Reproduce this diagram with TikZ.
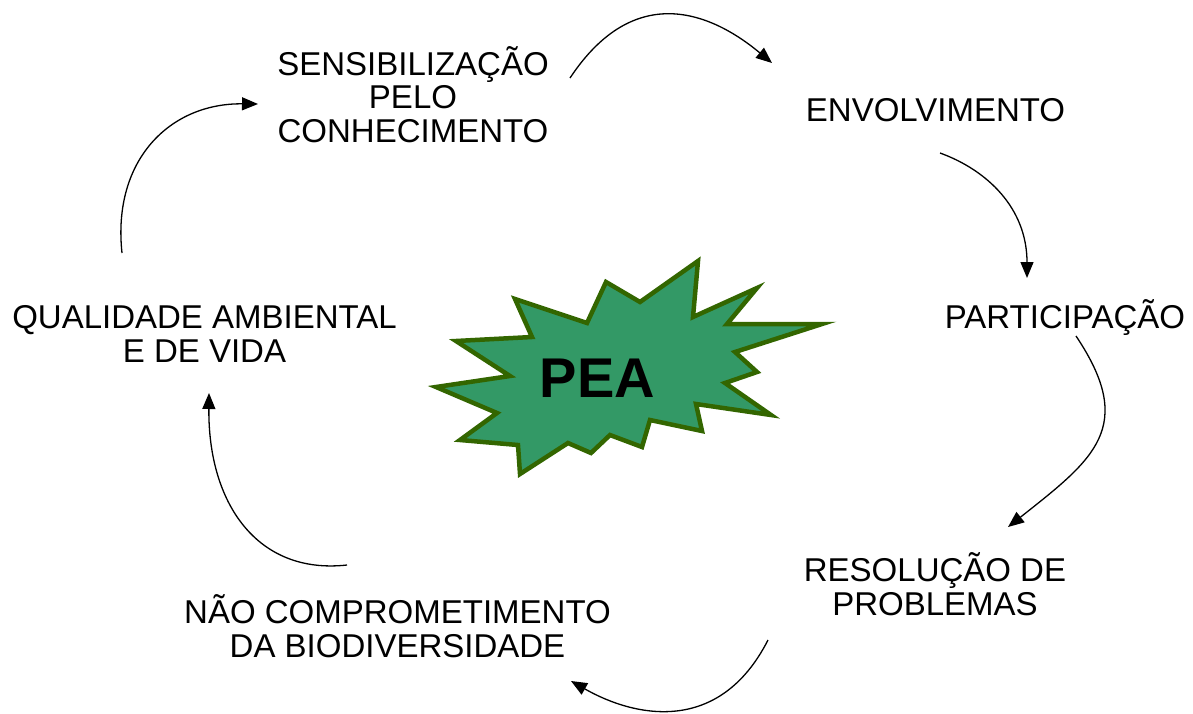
\documentclass[tikz,border=0pt]{standalone}
\usepackage{fontspec}
\setmainfont{Liberation Sans}
\usetikzlibrary{arrows.meta}
\definecolor{starfill}{HTML}{339966}
\definecolor{starline}{HTML}{336600}
\tikzset{
  lbl/.style={font=\fontsize{33}{33.5}\selectfont, align=center, inner sep=0pt, anchor=base},
  cyc/.style={line width=1.3pt, -{Triangle[length=16pt,width=13pt]}},
  burst/.style={fill=starfill, draw=starline, line width=4.5pt, line join=miter}
}
\begin{document}
\begin{tikzpicture}[x=1pt,y=-1pt]
\useasboundingbox (0,0) rectangle (1193,713);
% star burst
\draw[burst] (698,261) -- (693,317) -- (757,288) -- (727,324) -- (822,324) -- (735,352)
  -- (757,372) -- (725,383) -- (771,415) -- (696,404) -- (702,431) -- (650,420)
  -- (642,447) -- (610,435) -- (591,453) -- (568,443) -- (520,474) -- (518,445)
  -- (460,440) -- (497,413) -- (436,387) -- (510,376) -- (456,341) -- (532,337)
  -- (515,299) -- (587,323) -- (606,282) -- (640,302) -- cycle;
\node[font=\fontsize{56}{60}\selectfont\bfseries, inner sep=0pt, anchor=base] (pea) at (597.5,397) {PEA};
% labels (base anchor = baseline of the last line)
\node[lbl] (sens) at (413,142) {SENSIBILIZAÇÃO\\PELO\\CONHECIMENTO};
\node[lbl] (envo) at (935.5,121) {ENVOLVIMENTO};
\node[lbl] (part) at (1065,328) {PARTICIPAÇÃO};
\node[lbl] (reso) at (935,615) {RESOLUÇÃO DE\\PROBLEMAS};
\node[lbl] (nao) at (397.5,657) {NÃO COMPROMETIMENTO\\DA BIODIVERSIDADE};
\node[lbl] (qual) at (204.5,362) {QUALIDADE AMBIENTAL\\E DE VIDA};
% arrow end points
\coordinate (a1s) at (570,78);   \coordinate (a1e) at (772,63);
\coordinate (a2s) at (940,153);  \coordinate (a2e) at (1027,278);
\coordinate (a3s) at (1076,336); \coordinate (a3e) at (1008,527);
\coordinate (a4s) at (768,640);  \coordinate (a4e) at (571,681);
\coordinate (a5s) at (347,565);  \coordinate (a5e) at (209,393);
\coordinate (a6s) at (122,253);  \coordinate (a6e) at (258,104);
% cycle arrows
\draw[cyc] (a1s) .. controls (635,-20) and (712,13) .. (a1e);
\draw[cyc] (a2s) .. controls (987,170) and (1027,208) .. (a2e);
\draw[cyc] (a3s) .. controls (1137,427) and (1094,459) .. (a3e);
\draw[cyc] (a4s) .. controls (719,736) and (634,717) .. (a4e);
\draw[cyc] (a5s) .. controls (257,575) and (208,503) .. (a5e);
\draw[cyc] (a6s) .. controls (112,160) and (170,103) .. (a6e);
\end{tikzpicture}
\end{document}
